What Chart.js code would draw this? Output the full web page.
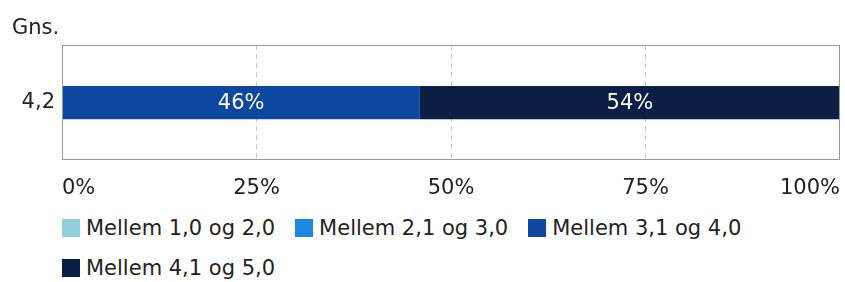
<!DOCTYPE html>
<html>
<head>
<meta charset="utf-8">
<script src="https://cdn.jsdelivr.net/npm/chart.js@4/dist/chart.umd.min.js"></script>
<style>
    body { margin: 0; background: #fff; font-family: 'DejaVu Sans', sans-serif; }
    #wrap { width: 845px; height: 200px; position: relative; }
    #legend { padding-left: 62px; margin-top: 8px; width: 783px; display: flex; flex-wrap: wrap; }
    .legend-item { display: inline-flex; align-items: center; height: 40px; margin-right: 20px; font-size: 21px; color: #222; }
    .legend-box { width: 18px; height: 18px; margin-right: 6px; }
</style>
</head>
<body>
<div id="wrap"><canvas id="gnsChart"></canvas></div>
<div id="legend"></div>
<script>
// Data
const categories = ['4,2'];
const seriesNames = ['Mellem 1,0 og 2,0', 'Mellem 2,1 og 3,0', 'Mellem 3,1 og 4,0', 'Mellem 4,1 og 5,0'];
const seriesValues = [[0], [0], [46], [54]];
const seriesColors = ['#92CDDC', '#1E88E5', '#0D47A1', '#0B1F44'];
const xTicks = [0, 25, 50, 75, 100];

const textColor = '#222';
const fontFamily = "'DejaVu Sans', sans-serif";

// frame around the plot area
const framePlugin = {
    id: 'frame',
    afterDraw(chart) {
        const a = chart.chartArea;
        const ctx = chart.ctx;
        ctx.save();
        ctx.strokeStyle = '#999';
        ctx.lineWidth = 1;
        ctx.strokeRect(Math.round(a.left) + 0.5, Math.round(a.top) + 0.5, Math.round(a.right - a.left) - 1, Math.round(a.bottom - a.top) - 1);
        ctx.restore();
    }
};

// percent labels inside the bars
const barLabels = {
    id: 'barLabels',
    afterDatasetsDraw(chart) {
        const ctx = chart.ctx;
        ctx.save();
        ctx.fillStyle = '#fff';
        ctx.font = '21px ' + fontFamily;
        ctx.textAlign = 'center';
        ctx.textBaseline = 'middle';
        chart.data.datasets.forEach((ds, i) => {
            const meta = chart.getDatasetMeta(i);
            meta.data.forEach((bar, j) => {
                const v = ds.data[j];
                if (!v) return;
                const p = bar.getCenterPoint();
                ctx.fillText(v + '%', p.x, p.y + 1);
            });
        });
        ctx.restore();
    }
};

const ctx = document.getElementById('gnsChart').getContext('2d');
const chart = new Chart(ctx, {
    type: 'bar',
    data: {
        labels: categories,
        datasets: seriesNames.map((name, i) => ({
            label: name,
            data: seriesValues[i],
            backgroundColor: seriesColors[i],
            borderWidth: 0,
            barPercentage: 1,
            categoryPercentage: 0.29
        }))
    },
    options: {
        indexAxis: 'y',
        responsive: true,
        maintainAspectRatio: false,
        animation: false,
        layout: { padding: { left: 12, right: 5, top: 0, bottom: 0 } },
        plugins: {
            legend: { display: false },
            tooltip: { enabled: false },
            title: {
                display: true,
                text: 'Gns.',
                align: 'start',
                color: textColor,
                font: { family: fontFamily, size: 21, weight: 'normal' },
                padding: { top: 16, bottom: 4 }
            }
        },
        scales: {
            x: {
                stacked: true,
                min: 0,
                max: 100,
                afterBuildTicks: axis => { axis.ticks = xTicks.map(v => ({ value: v })); },
                afterFit: axis => {
                    axis.height = 40;
                    axis.paddingLeft = 0;
                    axis.paddingRight = 0;
                },
                grid: {
                    drawTicks: false,
                    color: c => (c.tick && (c.tick.value === 0 || c.tick.value === 100)) ? 'rgba(0,0,0,0)' : '#c8c8c8'
                },
                border: { display: false, dash: [5, 4] },
                ticks: {
                    color: textColor,
                    align: 'inner',
                    padding: 16,
                    maxRotation: 0,
                    font: { family: fontFamily, size: 21 },
                    callback: v => v + '%'
                }
            },
            y: {
                stacked: true,
                afterFit: axis => {
                    axis.width = 50;
                    axis.paddingTop = 0;
                    axis.paddingBottom = 0;
                },
                grid: { display: false, drawTicks: false },
                border: { display: false },
                ticks: {
                    color: textColor,
                    padding: 7,
                    font: { family: fontFamily, size: 21 }
                }
            }
        }
    },
    plugins: [framePlugin, barLabels]
});

// HTML legend built from the datasets
const legendEl = document.getElementById('legend');
chart.data.datasets.forEach(ds => {
    const item = document.createElement('span');
    item.className = 'legend-item';
    const box = document.createElement('span');
    box.className = 'legend-box';
    box.style.background = ds.backgroundColor;
    item.appendChild(box);
    item.appendChild(document.createTextNode(ds.label));
    legendEl.appendChild(item);
});
</script>
</body>
</html>
